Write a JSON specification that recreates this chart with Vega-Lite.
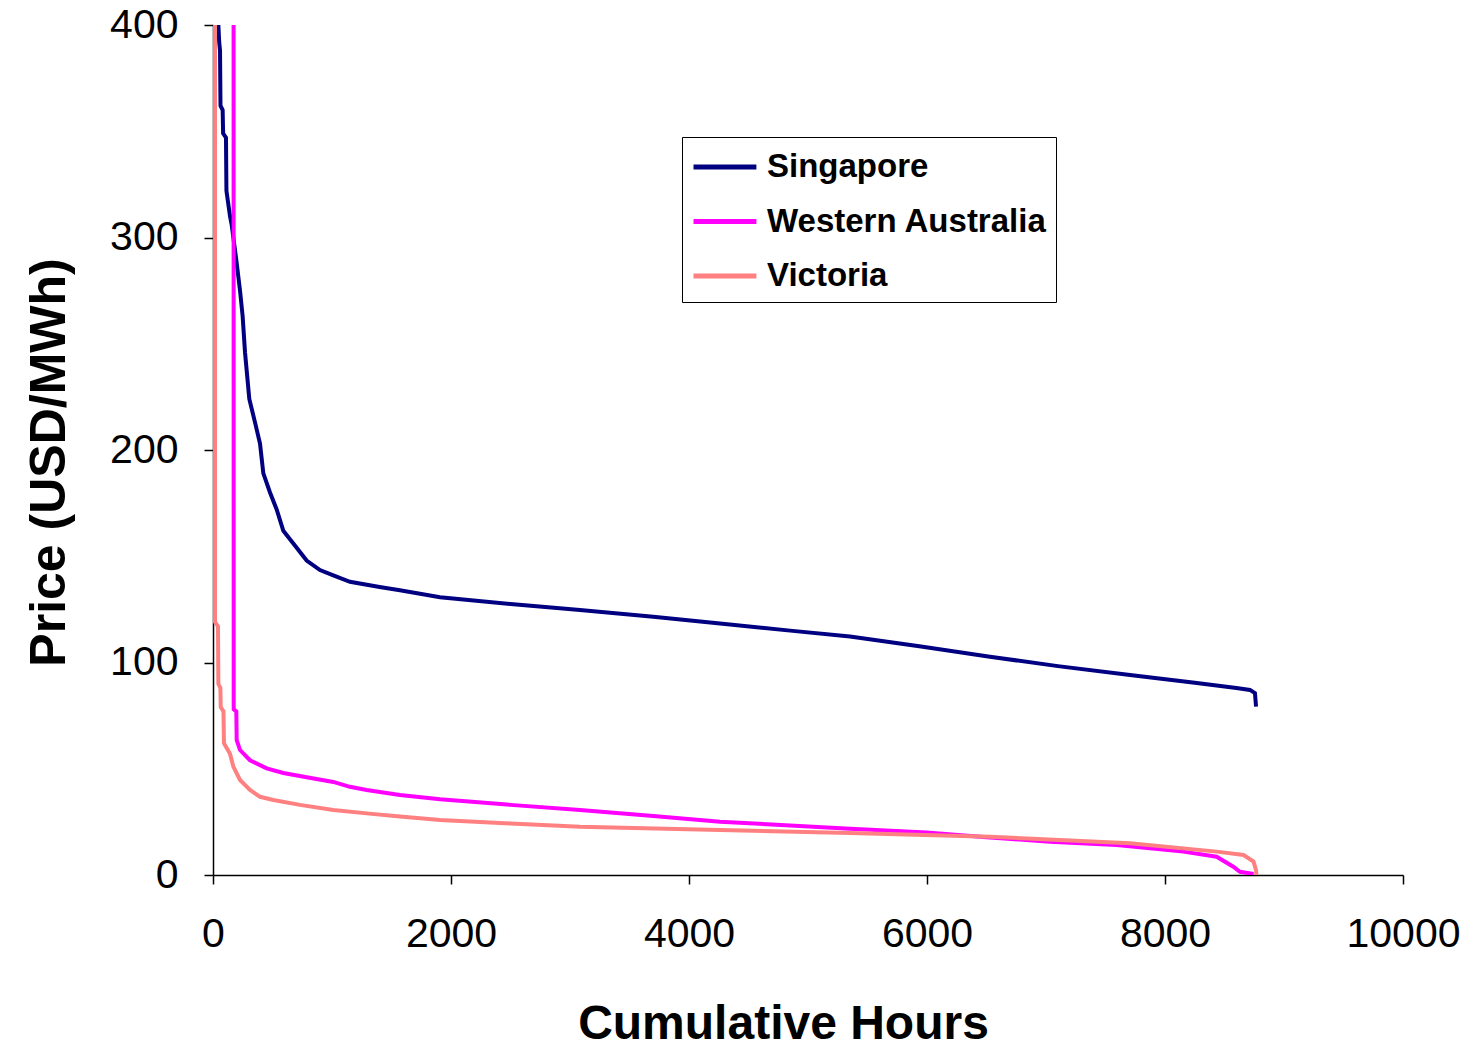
{
  "$schema": "https://vega.github.io/schema/vega-lite/v6.json",
  "width": 1190,
  "height": 850,
  "autosize": {"type": "none"},
  "padding": {"left": 213, "top": 25, "right": 65, "bottom": 175},
  "background": "white",
  "config": {
    "view": {"stroke": null},
    "font": "Liberation Sans",
    "axis": {
      "grid": false,
      "domainColor": "#000000",
      "domainWidth": 1.5,
      "tickColor": "#000000",
      "tickWidth": 1.5,
      "tickSize": 9,
      "labelFont": "Liberation Sans",
      "labelFontSize": 41,
      "labelColor": "#000000",
      "labelFlush": false,
      "labelOverlap": false,
      "titleFont": "Liberation Sans",
      "titleFontWeight": "bold",
      "titleColor": "#000000"
    }
  },
  "data": {
    "values": [
      {"series": "Singapore", "i": 1, "hours": 40, "price": 420},
      {"series": "Singapore", "i": 2, "hours": 45, "price": 400},
      {"series": "Singapore", "i": 3, "hours": 52, "price": 392},
      {"series": "Singapore", "i": 4, "hours": 59, "price": 388},
      {"series": "Singapore", "i": 5, "hours": 63, "price": 362},
      {"series": "Singapore", "i": 6, "hours": 81, "price": 360},
      {"series": "Singapore", "i": 7, "hours": 85, "price": 349},
      {"series": "Singapore", "i": 8, "hours": 109, "price": 347},
      {"series": "Singapore", "i": 9, "hours": 113, "price": 322},
      {"series": "Singapore", "i": 10, "hours": 143, "price": 310},
      {"series": "Singapore", "i": 11, "hours": 157, "price": 306},
      {"series": "Singapore", "i": 12, "hours": 199, "price": 288},
      {"series": "Singapore", "i": 13, "hours": 227, "price": 275},
      {"series": "Singapore", "i": 14, "hours": 249, "price": 263},
      {"series": "Singapore", "i": 15, "hours": 269, "price": 246},
      {"series": "Singapore", "i": 16, "hours": 305, "price": 224},
      {"series": "Singapore", "i": 17, "hours": 353, "price": 213},
      {"series": "Singapore", "i": 18, "hours": 395, "price": 203},
      {"series": "Singapore", "i": 19, "hours": 423, "price": 189},
      {"series": "Singapore", "i": 20, "hours": 479, "price": 180},
      {"series": "Singapore", "i": 21, "hours": 535, "price": 172},
      {"series": "Singapore", "i": 22, "hours": 591, "price": 162},
      {"series": "Singapore", "i": 23, "hours": 675, "price": 156},
      {"series": "Singapore", "i": 24, "hours": 787, "price": 148},
      {"series": "Singapore", "i": 25, "hours": 899, "price": 143.5},
      {"series": "Singapore", "i": 26, "hours": 1011, "price": 141},
      {"series": "Singapore", "i": 27, "hours": 1151, "price": 138},
      {"series": "Singapore", "i": 28, "hours": 1400, "price": 135.5},
      {"series": "Singapore", "i": 29, "hours": 1571, "price": 134},
      {"series": "Singapore", "i": 30, "hours": 1908, "price": 130.7},
      {"series": "Singapore", "i": 31, "hours": 2500, "price": 127.5},
      {"series": "Singapore", "i": 32, "hours": 3084, "price": 124.7},
      {"series": "Singapore", "i": 33, "hours": 3700, "price": 121.5},
      {"series": "Singapore", "i": 34, "hours": 4261, "price": 118.4},
      {"series": "Singapore", "i": 35, "hours": 4850, "price": 115},
      {"series": "Singapore", "i": 36, "hours": 5353, "price": 112.2},
      {"series": "Singapore", "i": 37, "hours": 5950, "price": 107.5},
      {"series": "Singapore", "i": 38, "hours": 6529, "price": 102.7},
      {"series": "Singapore", "i": 39, "hours": 7100, "price": 98.3},
      {"series": "Singapore", "i": 40, "hours": 7706, "price": 94.1},
      {"series": "Singapore", "i": 41, "hours": 8250, "price": 90.5},
      {"series": "Singapore", "i": 42, "hours": 8600, "price": 88},
      {"series": "Singapore", "i": 43, "hours": 8714, "price": 87.1},
      {"series": "Singapore", "i": 44, "hours": 8756, "price": 85.6},
      {"series": "Singapore", "i": 45, "hours": 8765, "price": 79.2},
      {"series": "Western Australia", "i": 1, "hours": 172, "price": 420},
      {"series": "Western Australia", "i": 2, "hours": 173, "price": 400},
      {"series": "Western Australia", "i": 3, "hours": 174, "price": 78},
      {"series": "Western Australia", "i": 4, "hours": 196, "price": 77},
      {"series": "Western Australia", "i": 5, "hours": 199, "price": 63.5},
      {"series": "Western Australia", "i": 6, "hours": 227, "price": 58.8},
      {"series": "Western Australia", "i": 7, "hours": 311, "price": 54},
      {"series": "Western Australia", "i": 8, "hours": 451, "price": 50.2},
      {"series": "Western Australia", "i": 9, "hours": 591, "price": 48},
      {"series": "Western Australia", "i": 10, "hours": 787, "price": 46},
      {"series": "Western Australia", "i": 11, "hours": 1011, "price": 43.8},
      {"series": "Western Australia", "i": 12, "hours": 1151, "price": 41.5},
      {"series": "Western Australia", "i": 13, "hours": 1291, "price": 40},
      {"series": "Western Australia", "i": 14, "hours": 1571, "price": 37.6},
      {"series": "Western Australia", "i": 15, "hours": 1908, "price": 35.6},
      {"series": "Western Australia", "i": 16, "hours": 2500, "price": 33},
      {"series": "Western Australia", "i": 17, "hours": 3084, "price": 30.6},
      {"series": "Western Australia", "i": 18, "hours": 3700, "price": 27.8},
      {"series": "Western Australia", "i": 19, "hours": 4261, "price": 25.1},
      {"series": "Western Australia", "i": 20, "hours": 4850, "price": 23.3},
      {"series": "Western Australia", "i": 21, "hours": 5353, "price": 21.8},
      {"series": "Western Australia", "i": 22, "hours": 5997, "price": 20},
      {"series": "Western Australia", "i": 23, "hours": 6500, "price": 17.8},
      {"series": "Western Australia", "i": 24, "hours": 7034, "price": 15.6},
      {"series": "Western Australia", "i": 25, "hours": 7594, "price": 14.1},
      {"series": "Western Australia", "i": 26, "hours": 8154, "price": 11},
      {"series": "Western Australia", "i": 27, "hours": 8434, "price": 8.6},
      {"series": "Western Australia", "i": 28, "hours": 8574, "price": 3.9},
      {"series": "Western Australia", "i": 29, "hours": 8630, "price": 1.5},
      {"series": "Western Australia", "i": 30, "hours": 8745, "price": 0.5},
      {"series": "Victoria", "i": 1, "hours": 15, "price": 420},
      {"series": "Victoria", "i": 2, "hours": 17, "price": 400},
      {"series": "Victoria", "i": 3, "hours": 17, "price": 119},
      {"series": "Victoria", "i": 4, "hours": 42, "price": 117},
      {"series": "Victoria", "i": 5, "hours": 45, "price": 90},
      {"series": "Victoria", "i": 6, "hours": 62, "price": 88},
      {"series": "Victoria", "i": 7, "hours": 65, "price": 79},
      {"series": "Victoria", "i": 8, "hours": 88, "price": 77},
      {"series": "Victoria", "i": 9, "hours": 92, "price": 62},
      {"series": "Victoria", "i": 10, "hours": 143, "price": 57},
      {"series": "Victoria", "i": 11, "hours": 171, "price": 51},
      {"series": "Victoria", "i": 12, "hours": 227, "price": 44.7},
      {"series": "Victoria", "i": 13, "hours": 311, "price": 40},
      {"series": "Victoria", "i": 14, "hours": 395, "price": 36.8},
      {"series": "Victoria", "i": 15, "hours": 507, "price": 35.3},
      {"series": "Victoria", "i": 16, "hours": 731, "price": 33},
      {"series": "Victoria", "i": 17, "hours": 1011, "price": 30.6},
      {"series": "Victoria", "i": 18, "hours": 1291, "price": 29},
      {"series": "Victoria", "i": 19, "hours": 1571, "price": 27.5},
      {"series": "Victoria", "i": 20, "hours": 1908, "price": 25.9},
      {"series": "Victoria", "i": 21, "hours": 2500, "price": 24.2},
      {"series": "Victoria", "i": 22, "hours": 3084, "price": 22.7},
      {"series": "Victoria", "i": 23, "hours": 4261, "price": 21.2},
      {"series": "Victoria", "i": 24, "hours": 5353, "price": 19.8},
      {"series": "Victoria", "i": 25, "hours": 6529, "price": 18},
      {"series": "Victoria", "i": 26, "hours": 7706, "price": 14.9},
      {"series": "Victoria", "i": 27, "hours": 8434, "price": 11},
      {"series": "Victoria", "i": 28, "hours": 8660, "price": 9.4},
      {"series": "Victoria", "i": 29, "hours": 8744, "price": 6.3},
      {"series": "Victoria", "i": 30, "hours": 8765, "price": 2.3},
      {"series": "Victoria", "i": 31, "hours": 8768, "price": 0}
    ]
  },
  "mark": {"type": "line", "strokeWidth": 4, "clip": true},
  "encoding": {
    "x": {
      "field": "hours",
      "type": "quantitative",
      "scale": {"domain": [0, 10000], "nice": false},
      "axis": {
        "values": [0, 2000, 4000, 6000, 8000, 10000],
        "format": "d",
        "labelPadding": 30,
        "title": "Cumulative Hours",
        "titleFontSize": 48,
        "titleX": 570,
        "titleY": 163,
        "titleBaseline": "alphabetic",
        "titleAlign": "center"
      }
    },
    "y": {
      "field": "price",
      "type": "quantitative",
      "scale": {"domain": [0, 400], "nice": false},
      "axis": {
        "values": [0, 100, 200, 300, 400],
        "labelPadding": 26,
        "title": "Price (USD/MWh)",
        "titleFontSize": 50,
        "titleX": -149,
        "titleY": 437,
        "titleBaseline": "alphabetic",
        "titleAlign": "center"
      }
    },
    "color": {
      "field": "series",
      "type": "nominal",
      "scale": {
        "domain": ["Singapore", "Western Australia", "Victoria"],
        "range": ["#000080", "#FF00FF", "#FF8080"]
      },
      "legend": {
        "title": null,
        "orient": "none",
        "legendX": 469,
        "legendY": 112,
        "strokeColor": "#000000",
        "fillColor": "#ffffff",
        "padding": 9,
        "symbolType": "M-1,0H2.4",
        "symbolSize": 1369,
        "symbolStrokeWidth": 5,
        "labelFont": "Liberation Sans",
        "labelFontWeight": "bold",
        "labelFontSize": 33,
        "labelColor": "#000000",
        "labelLimit": 600,
        "labelOffset": 34,
        "rowPadding": 16.5
      }
    },
    "order": {"field": "i", "type": "quantitative"}
  }
}
